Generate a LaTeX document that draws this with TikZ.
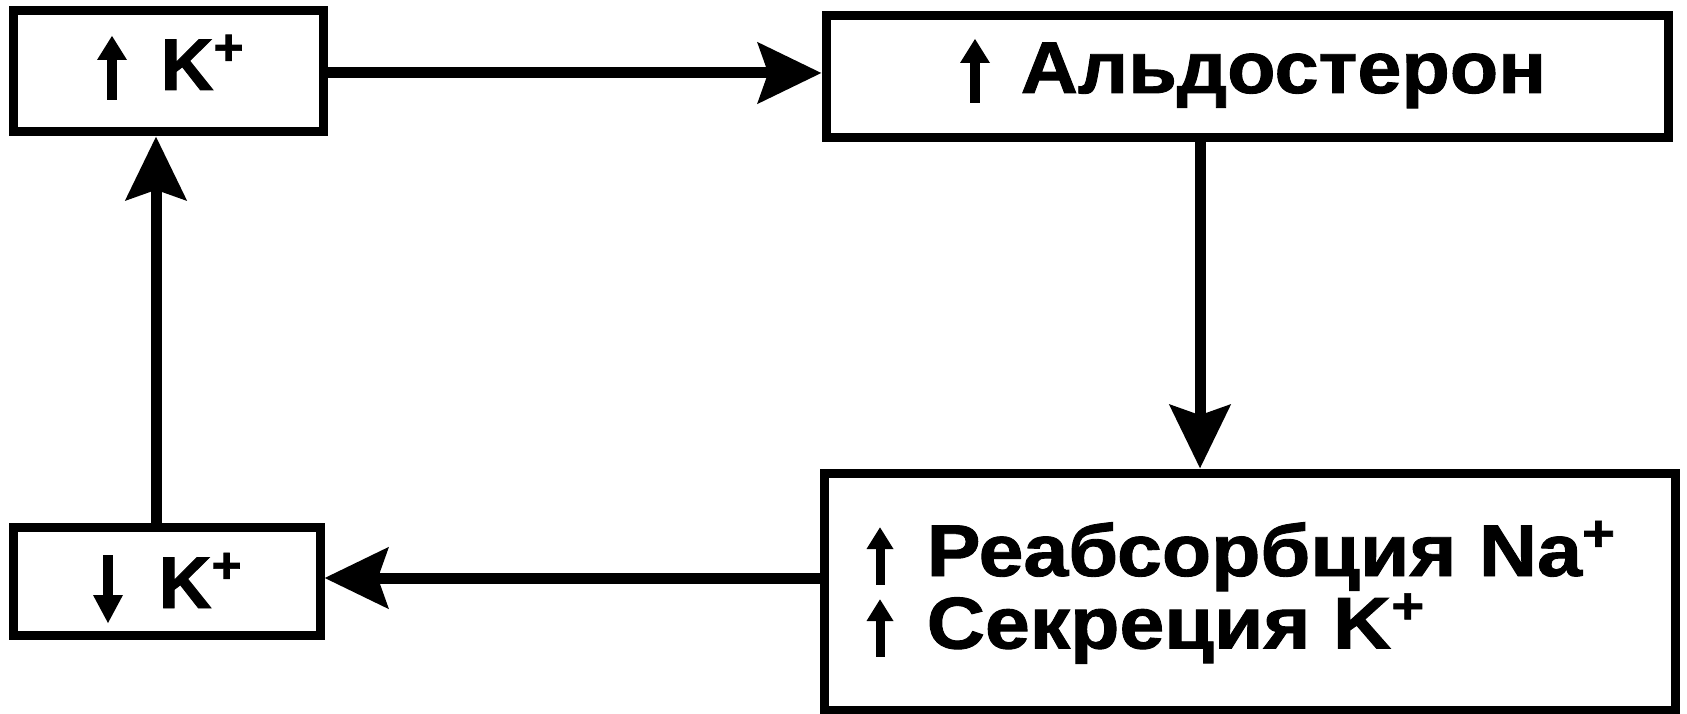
\documentclass[tikz,border=0pt]{standalone}
\usepackage{fontspec}
\setmainfont{Liberation Sans}[BoldFeatures={FakeBold=1.2}]
\usetikzlibrary{arrows.meta}
\tikzset{
  blk/.style={draw, line width=2.7pt, inner sep=0pt},
  lbl/.style={inner sep=0pt, font=\bfseries\fontsize{22}{22}\selectfont},
  link/.style={line width=3.3pt, -{Stealth[length=19pt, width=18pt, inset=3pt]}},
  % short bold arrows standing in front of the labels (origin on the baseline)
  uparr/.pic={\fill (-5,10) rectangle (5,-33);
              \fill (-15,-30) -- (0,-54) -- (15,-30) -- cycle;},
  dnarr/.pic={\fill (-5,-53) rectangle (5,-10);
              \fill (-15,-13) -- (0,15) -- (15,-13) -- cycle;}
}
\begin{document}
\begin{tikzpicture}[x=0.3pt, y=-0.3pt]
  \useasboundingbox (0,0) rectangle (1687,714);
  % boxes
  \node[blk, minimum width=93pt, minimum height=36.3pt] (kup) at (168,71.5) {};
  \node[blk, minimum width=252.6pt, minimum height=36.6pt] (ald) at (1247,77) {};
  \node[blk, minimum width=92.1pt, minimum height=32.4pt] (kdn) at (166.5,581) {};
  \node[blk, minimum width=255.3pt, minimum height=71.1pt] (ren) at (1249.5,591.5) {};
  % labels
  \pic at (112,90) {uparr};
  \node[lbl, anchor=base west] (kupt) at (160,90) {K\textsuperscript{+}};
  \pic at (975,93) {uparr};
  \node[lbl, anchor=base west, xscale=1.08] (aldt) at (1020,93) {Альдостерон};
  \pic at (108,608) {dnarr};
  \node[lbl, anchor=base west] (kdnt) at (158,608) {K\textsuperscript{+}};
  \pic[scale=0.9] at (880,576) {uparr};
  \pic[scale=0.9] at (880,648) {uparr};
  \node[lbl, anchor=base west, xscale=1.1] (rtxt) at (926,576)
    {\begin{tabular}[t]{@{}l@{}}Реабсорбция Na\textsuperscript{+}\\[-1.4pt]
     Секреция K\textsuperscript{+}\end{tabular}};
  % connectors
  \coordinate (a1) at (kup.east |- 0,73);
  \draw[link] (a1) -- (ald.west |- a1);
  \draw[link] (ald.south -| 1200,0) -- (ren.north -| 1200,0);
  \draw[link] (ren.west |- 0,578) -- (kdn.east |- 0,578);
  \draw[link] (kdn.north -| 156,0) -- (kup.south -| 156,0);
\end{tikzpicture}
\end{document}
